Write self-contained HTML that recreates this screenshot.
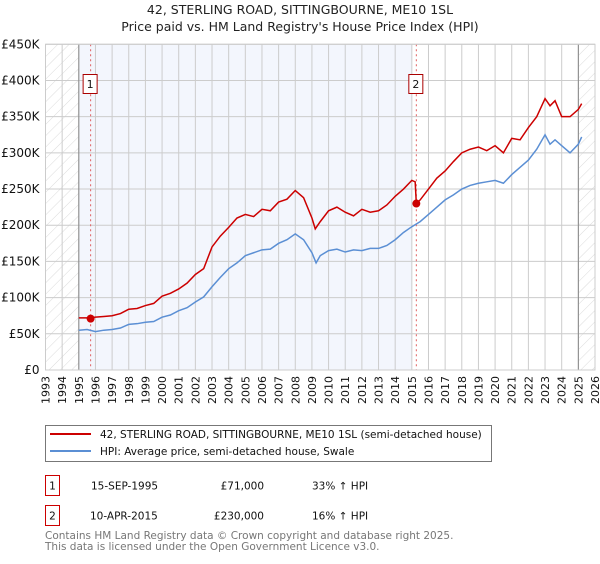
<!DOCTYPE html>
<html><head><meta charset="utf-8">
<style>
body{margin:0;background:#fff;font-family:"DejaVu Sans","Liberation Sans",sans-serif;}
svg text{font-family:"DejaVu Sans","Liberation Sans",sans-serif;}
</style></head><body>
<svg id="c" width="600" height="560" xmlns="http://www.w3.org/2000/svg">
<defs>
<pattern id="hatch" patternUnits="userSpaceOnUse" width="8" height="8" patternTransform="rotate(45)">
<line x1="0" y1="0" x2="0" y2="8" stroke="#ccc" stroke-width="0.7"/>
</pattern>
</defs>
<text x="300" y="14" text-anchor="middle" font-size="12.5" fill="#222">42, STERLING ROAD, SITTINGBOURNE, ME10 1SL</text>
<text x="300" y="31" text-anchor="middle" font-size="12.5" fill="#222">Price paid vs. HM Land Registry's House Price Index (HPI)</text>
<g id="plot"></g>
<g>
<rect x="45.5" y="425.5" width="446" height="36" fill="#fff" stroke="#777"/>
<line x1="50" y1="434" x2="91" y2="434" stroke="#cc0000" stroke-width="2"/>
<text x="100" y="438" font-size="10.5" fill="#111">42, STERLING ROAD, SITTINGBOURNE, ME10 1SL (semi-detached house)</text>
<line x1="50" y1="451" x2="91" y2="451" stroke="#5b8fd4" stroke-width="2"/>
<text x="100" y="455" font-size="10.5" fill="#111">HPI: Average price, semi-detached house, Swale</text>
</g>
<g font-size="10.5" fill="#111">
<rect x="45.5" y="475.5" width="14" height="20" fill="#fff" stroke="#cc0000"/>
<text x="52.5" y="489.5" text-anchor="middle">1</text>
<text x="91" y="489.5">15-SEP-1995</text>
<text x="264" y="489.5" text-anchor="end">£71,000</text>
<text x="312" y="489.5">33% ↑ HPI</text>
<rect x="45.5" y="505.5" width="14" height="20" fill="#fff" stroke="#cc0000"/>
<text x="52.5" y="519.5" text-anchor="middle">2</text>
<text x="90" y="519.5">10-APR-2015</text>
<text x="264" y="519.5" text-anchor="end">£230,000</text>
<text x="312" y="519.5">16% ↑ HPI</text>
</g>
<text x="45" y="539" font-size="10.5" fill="#777">Contains HM Land Registry data © Crown copyright and database right 2025.</text>
<text x="45" y="550" font-size="10.5" fill="#777">This data is licensed under the Open Government Licence v3.0.</text>
</svg>
<script>
const hpiYears=[1995,1995.5,1996,1996.5,1997,1997.5,1998,1998.5,1999,1999.5,2000,2000.5,2001,2001.5,2002,2002.5,2003,2003.5,2004,2004.5,2005,2005.5,2006,2006.5,2007,2007.5,2008,2008.5,2009,2009.25,2009.5,2010,2010.5,2011,2011.5,2012,2012.5,2013,2013.5,2014,2014.5,2015,2015.5,2016,2016.5,2017,2017.5,2018,2018.5,2019,2019.5,2020,2020.5,2021,2021.5,2022,2022.5,2023,2023.3,2023.6,2024,2024.5,2025,2025.2];
const hpiValues=[55,56,53,55,56,58,63,64,66,67,73,76,82,86,94,101,115,128,140,148,158,162,166,167,175,180,188,180,162,148,158,165,167,163,166,165,168,168,172,180,190,198,205,215,225,235,242,250,255,258,260,262,258,270,280,290,305,325,312,318,310,300,312,322];
const propYears=[1995,1995.5,1996,1996.5,1997,1997.5,1998,1998.5,1999,1999.5,2000,2000.5,2001,2001.5,2002,2002.5,2003,2003.5,2004,2004.5,2005,2005.5,2006,2006.5,2007,2007.5,2008,2008.5,2009,2009.2,2009.5,2010,2010.5,2011,2011.5,2012,2012.5,2013,2013.5,2014,2014.5,2015,2015.2,2015.27,2015.5,2016,2016.5,2017,2017.5,2018,2018.5,2019,2019.5,2020,2020.5,2021,2021.5,2022,2022.5,2023,2023.3,2023.6,2024,2024.5,2025,2025.2];
const propValues=[72,72,73,74,75,78,84,85,89,92,102,106,112,120,132,140,170,185,197,210,215,212,222,220,232,236,248,238,210,195,205,220,225,218,213,222,218,220,228,240,250,262,260,230,235,250,265,275,288,300,305,308,303,310,300,320,318,335,350,375,365,372,350,350,360,368];
const saleYears=[1995.71,2015.27];
const saleValues=[71,230];
const saleLabels=["1","2"];
const xTicks=[1993,1994,1995,1996,1997,1998,1999,2000,2001,2002,2003,2004,2005,2006,2007,2008,2009,2010,2011,2012,2013,2014,2015,2016,2017,2018,2019,2020,2021,2022,2023,2024,2025,2026];
const yTicks=[0,50,100,150,200,250,300,350,400,450];
const yTickLabels=["£0","£50K","£100K","£150K","£200K","£250K","£300K","£350K","£400K","£450K"];

const L=45.5,R=595,T=44.3,B=370;
const x=v=>L+(v-1993)/(2026-1993)*(R-L);
const y=v=>B-v/450*(B-T);
const NS="http://www.w3.org/2000/svg";
const g=document.getElementById('plot');
function mk(tag,attrs,parent){const e=document.createElementNS(NS,tag);for(const k in attrs)e.setAttribute(k,attrs[k]);(parent||g).appendChild(e);return e;}

let e;
e=mk('rect',{x:x(1995),y:T,width:x(2015)-x(1995),height:B-T,fill:'#f3f6fd'});


e=mk('rect',{x:L,y:T,width:x(1995)-L,height:B-T,fill:'url(#hatch)'});


e=mk('rect',{x:x(2025),y:T,width:R-x(2025),height:B-T,fill:'url(#hatch)'});



xTicks.forEach(t=>{
  e=mk('line',{x1:x(t),x2:x(t),y1:T,y2:B,stroke:'#ccc','stroke-width':1});
  
  
  e=mk('text',{x:0,y:0,transform:`translate(${x(t)+4},${B+6}) rotate(-90)`,'text-anchor':'end','font-size':11,fill:'#111'});
  e.textContent=t;
  
  
});
yTicks.forEach((t,i)=>{
  e=mk('line',{x1:L,x2:R,y1:y(t),y2:y(t),stroke:'#ccc','stroke-width':1});
  
  
  e=mk('text',{x:L-6,y:y(t)+4,'text-anchor':'end','font-size':12,fill:'#111'});
  e.textContent=yTickLabels[i];
  
  
});
e=mk('line',{x1:x(1995),x2:x(1995),y1:T,y2:B,stroke:'#888','stroke-width':1});


e=mk('line',{x1:x(2025),x2:x(2025),y1:T,y2:B,stroke:'#888','stroke-width':1});



saleYears.forEach((s,i)=>{
  e=mk('line',{x1:x(s),x2:x(s),y1:T,y2:B,stroke:'#e06060','stroke-width':1,'stroke-dasharray':'2,3'});
  
  
});

e=mk('polyline',{points:hpiYears.map((t,i)=>x(t)+','+y(hpiValues[i])).join(' '),fill:'none',stroke:'#5b8fd4','stroke-width':1.5});


e=mk('polyline',{points:propYears.map((t,i)=>x(t)+','+y(propValues[i])).join(' '),fill:'none',stroke:'#cc0000','stroke-width':1.5});



saleYears.forEach((s,i)=>{
  e=mk('circle',{cx:x(s),cy:y(saleValues[i]),r:4,fill:'#cc0000'});
  
  
  e=mk('rect',{x:x(s)-7.5,y:74.5,width:14,height:19,fill:'#fff',stroke:'#aa0000'});
  
  
  e=mk('text',{x:x(s)-0.5,y:88,'text-anchor':'middle','font-size':11,fill:'#111'});
  e.textContent=saleLabels[i];
  
  
});
e=mk('rect',{x:L,y:T,width:R-L,height:B-T,fill:'none',stroke:'#ccc'});


</script>
</body></html>
